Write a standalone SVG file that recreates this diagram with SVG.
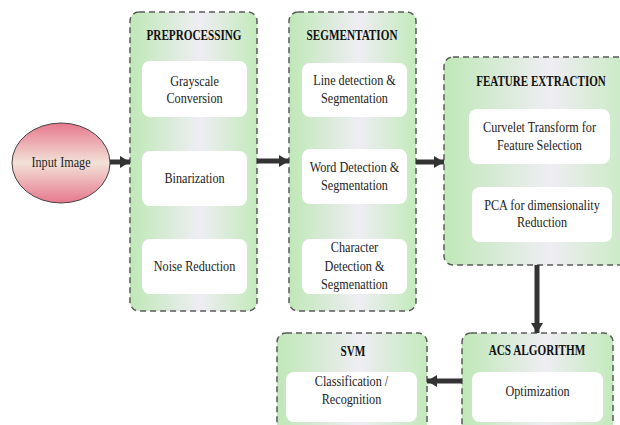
<svg xmlns="http://www.w3.org/2000/svg" width="620" height="425" viewBox="0 0 620 425">
<defs>
<linearGradient id="g" x1="0" y1="0" x2="1" y2="0">
<stop offset="0" stop-color="#bfe8b7"/>
<stop offset="0.55" stop-color="#efedf3"/>
<stop offset="1" stop-color="#c3eabc"/>
</linearGradient>
<linearGradient id="pink" x1="0" y1="0" x2="0" y2="1">
<stop offset="0" stop-color="#e6788c"/>
<stop offset="0.5" stop-color="#f2e2d8"/>
<stop offset="1" stop-color="#e6788c"/>
</linearGradient>
<marker id="ah" markerUnits="userSpaceOnUse" markerWidth="10" markerHeight="12" refX="10" refY="6" orient="auto">
<path d="M0,0 L10,6 L0,12 z" fill="#333"/>
</marker>
<style>
.outer{fill:url(#g);stroke:#5a5a5a;stroke-width:1.5;stroke-dasharray:6 4}
.inner{fill:#fff;stroke:none}
.t{font-family:"Liberation Serif","Times New Roman",serif;font-weight:bold;font-size:14px;fill:#111;text-anchor:middle}
.b{font-family:"Liberation Serif","Times New Roman",serif;font-size:14px;fill:#222;text-anchor:middle}
.c{stroke:#333;stroke-width:5;fill:none;marker-end:url(#ah)}
</style>
</defs>
<rect width="620" height="425" fill="#fff"/>
<g id="input">
<ellipse cx="61" cy="163" rx="49" ry="40" fill="url(#pink)" stroke="#444" stroke-width="1"/>
<text class="b" transform="translate(61,167) scale(0.87,1)">Input Image</text>
</g>
<g id="preprocessing">
<rect class="outer" x="130" y="12" width="127" height="299" rx="9"/>
<text class="t" transform="translate(194,40) scale(0.8,1)">PREPROCESSING</text>
<rect class="inner" x="142" y="61" width="105" height="56" rx="8"/>
<text class="b" transform="translate(194.5,86) scale(0.87,1)">Grayscale</text>
<text class="b" transform="translate(194.5,103) scale(0.87,1)">Conversion</text>
<rect class="inner" x="142" y="151" width="105" height="55" rx="8"/>
<text class="b" transform="translate(194.5,183) scale(0.87,1)">Binarization</text>
<rect class="inner" x="142" y="239" width="105" height="55" rx="8"/>
<text class="b" transform="translate(194.5,271) scale(0.87,1)">Noise Reduction</text>
</g>
<g id="segmentation">
<rect class="outer" x="289" y="12" width="127" height="299" rx="9"/>
<text class="t" transform="translate(352,40) scale(0.8,1)">SEGMENTATION</text>
<rect class="inner" x="302" y="63" width="105" height="54" rx="8"/>
<text class="b" transform="translate(354.5,85) scale(0.87,1)">Line detection &amp;</text>
<text class="b" transform="translate(354.5,103) scale(0.87,1)">Segmentation</text>
<rect class="inner" x="302" y="149" width="105" height="55" rx="8"/>
<text class="b" transform="translate(354.5,172) scale(0.87,1)">Word Detection &amp;</text>
<text class="b" transform="translate(354.5,190) scale(0.87,1)">Segmentation</text>
<rect class="inner" x="302" y="239" width="105" height="55" rx="8"/>
<text class="b" transform="translate(354.5,252) scale(0.87,1)">Character</text>
<text class="b" transform="translate(354.5,271) scale(0.87,1)">Detection &amp;</text>
<text class="b" transform="translate(354.5,289) scale(0.87,1)">Segmenattion</text>
</g>
<g id="feature">
<rect class="outer" x="444" y="57" width="194" height="208" rx="9"/>
<text class="t" transform="translate(541,86) scale(0.79,1)">FEATURE EXTRACTION</text>
<rect class="inner" x="469" y="109" width="141" height="55" rx="8"/>
<text class="b" transform="translate(539.5,132) scale(0.87,1)">Curvelet Transform for</text>
<text class="b" transform="translate(539.5,150) scale(0.87,1)">Feature Selection</text>
<rect class="inner" x="472" y="187" width="140" height="55" rx="8"/>
<text class="b" transform="translate(542,210) scale(0.87,1)">PCA for dimensionality</text>
<text class="b" transform="translate(542,227) scale(0.87,1)">Reduction</text>
</g>
<g id="acs">
<rect class="outer" x="462" y="333" width="151" height="110" rx="9"/>
<text class="t" transform="translate(537,355) scale(0.8,1)">ACS ALGORITHM</text>
<rect class="inner" x="472" y="372" width="131" height="50" rx="8"/>
<text class="b" transform="translate(537.5,396) scale(0.87,1)">Optimization</text>
</g>
<g id="svm">
<rect class="outer" x="277" y="333" width="150" height="110" rx="9"/>
<text class="t" transform="translate(353,356) scale(0.8,1)">SVM</text>
<rect class="inner" x="286" y="372" width="131" height="50" rx="8"/>
<text class="b" transform="translate(351.5,386) scale(0.87,1)">Classification /</text>
<text class="b" transform="translate(351.5,404) scale(0.87,1)">Recognition</text>
</g>
<g id="connectors">
<line class="c" x1="110" y1="162" x2="130" y2="162"/>
<line class="c" x1="257" y1="161" x2="289" y2="161"/>
<line class="c" x1="416" y1="162" x2="444" y2="162"/>
<line class="c" x1="537" y1="265" x2="537" y2="333"/>
<line class="c" x1="462" y1="381" x2="427" y2="381"/>
</g>
</svg>
